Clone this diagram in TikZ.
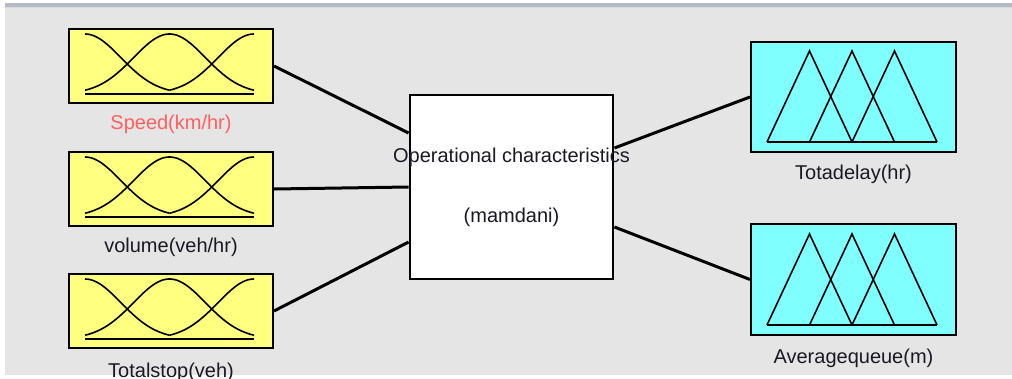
\documentclass[tikz,border=0pt]{standalone}
\usepackage{fontspec}
\setmainfont{Liberation Sans}
\definecolor{bg}{RGB}{229,229,229}
\definecolor{inyel}{RGB}{255,255,128}
\definecolor{outcy}{RGB}{128,255,255}
\definecolor{selred}{RGB}{255,95,95}
\definecolor{barc}{RGB}{182,186,196}
\definecolor{barlight}{RGB}{215,218,226}
\definecolor{txt}{RGB}{25,25,35}
\newcommand\mfgauss[2]{%
  \draw[mfline] (85,#2) -- (254,#2);
  \draw[mfline] plot[domain=0:84.5,samples=40] ({85+\x},{#2-(#2-#1)*exp(-0.5*(\x/35.9)^2)});
  \draw[mfline] plot[domain=-84.5:84.5,samples=70] ({169.5+\x},{#2-(#2-#1)*exp(-0.5*(\x/35.9)^2)});
  \draw[mfline] plot[domain=-84.5:0,samples=40] ({254+\x},{#2-(#2-#1)*exp(-0.5*(\x/35.9)^2)});
}
\newcommand\mftri[2]{%
  \draw[mfline] (767,#2) -- (937,#2);
  \draw[mfline] (767,#2) -- (809.5,#1) -- (852,#2);
  \draw[mfline] (809.5,#2) -- (852,#1) -- (894.5,#2);
  \draw[mfline] (852,#2) -- (894.5,#1) -- (937,#2);
}
\begin{document}
\begin{tikzpicture}[x=1pt,y=-1pt,
  inbox/.style={draw=black,line width=2pt,fill=inyel,minimum width=204pt,minimum height=74pt,inner sep=0pt},
  outbox/.style={draw=black,line width=2pt,fill=outcy,minimum width=205pt,inner sep=0pt},
  fisbox/.style={draw=black,line width=2.8pt,fill=white,minimum width=203pt,minimum height=184pt,inner sep=0pt},
  lbl/.style={text=txt,font=\fontsize{20}{23}\selectfont,inner sep=0pt},
  mfline/.style={line width=1.6pt,black},
  conn/.style={line width=3pt,black}]
\useasboundingbox (0,0) rectangle (1012,378);
\fill[white] (0,0) rectangle (1012,378);
\fill[bg] (5,7.5) rectangle (1012,375);
\fill[barc] (5,3.3) rectangle (1012,6.7);
\fill[barlight] (5,6.7) rectangle (1012,8);

% input boxes
\node[inbox] (speed) at (171,66) {};
\node[inbox] (volume) at (171,189) {};
\node[inbox] (stop) at (171,311) {};
\mfgauss{34}{94}
\mfgauss{157}{217}
\mfgauss{279}{339}

\node[lbl,text=selred] (speedl) at ([yshift=-20pt]speed.south) {Speed(km/hr)};
\node[lbl] (volumel) at ([yshift=-20pt]volume.south) {volume(veh/hr)};
\node[lbl] (stopl) at ([yshift=-23pt]stop.south) {Totalstop(veh)};

% FIS box
\node[fisbox] (fis) at (511.5,187) {};
\node[lbl] (fist) at ([yshift=30pt]fis.center) {Operational characteristics};
\node[lbl] (fism) at ([yshift=-30pt]fis.center) {(mamdani)};

% output boxes
\node[outbox,minimum height=110pt] (delay) at (853.5,97) {};
\node[outbox,minimum height=111pt] (queue) at (853.5,279.5) {};
\mftri{51}{142}
\mftri{234}{325}
\node[lbl] (delayl) at ([yshift=-21pt]delay.south) {Totadelay(hr)};
\node[lbl] (queuel) at ([yshift=-22pt]queue.south) {Averagequeue(m)};

% connectors
\draw[conn] (speed.east) -- ([yshift=54pt]fis.west);
\draw[conn] (volume.east) -- ([yshift=0pt]fis.west);
\draw[conn] (stop.east) -- ([yshift=-55pt]fis.west);
\draw[conn] ([yshift=39pt]fis.east) -- (delay.west);
\draw[conn] ([yshift=-40pt]fis.east) -- (queue.west);
\end{tikzpicture}
\end{document}
